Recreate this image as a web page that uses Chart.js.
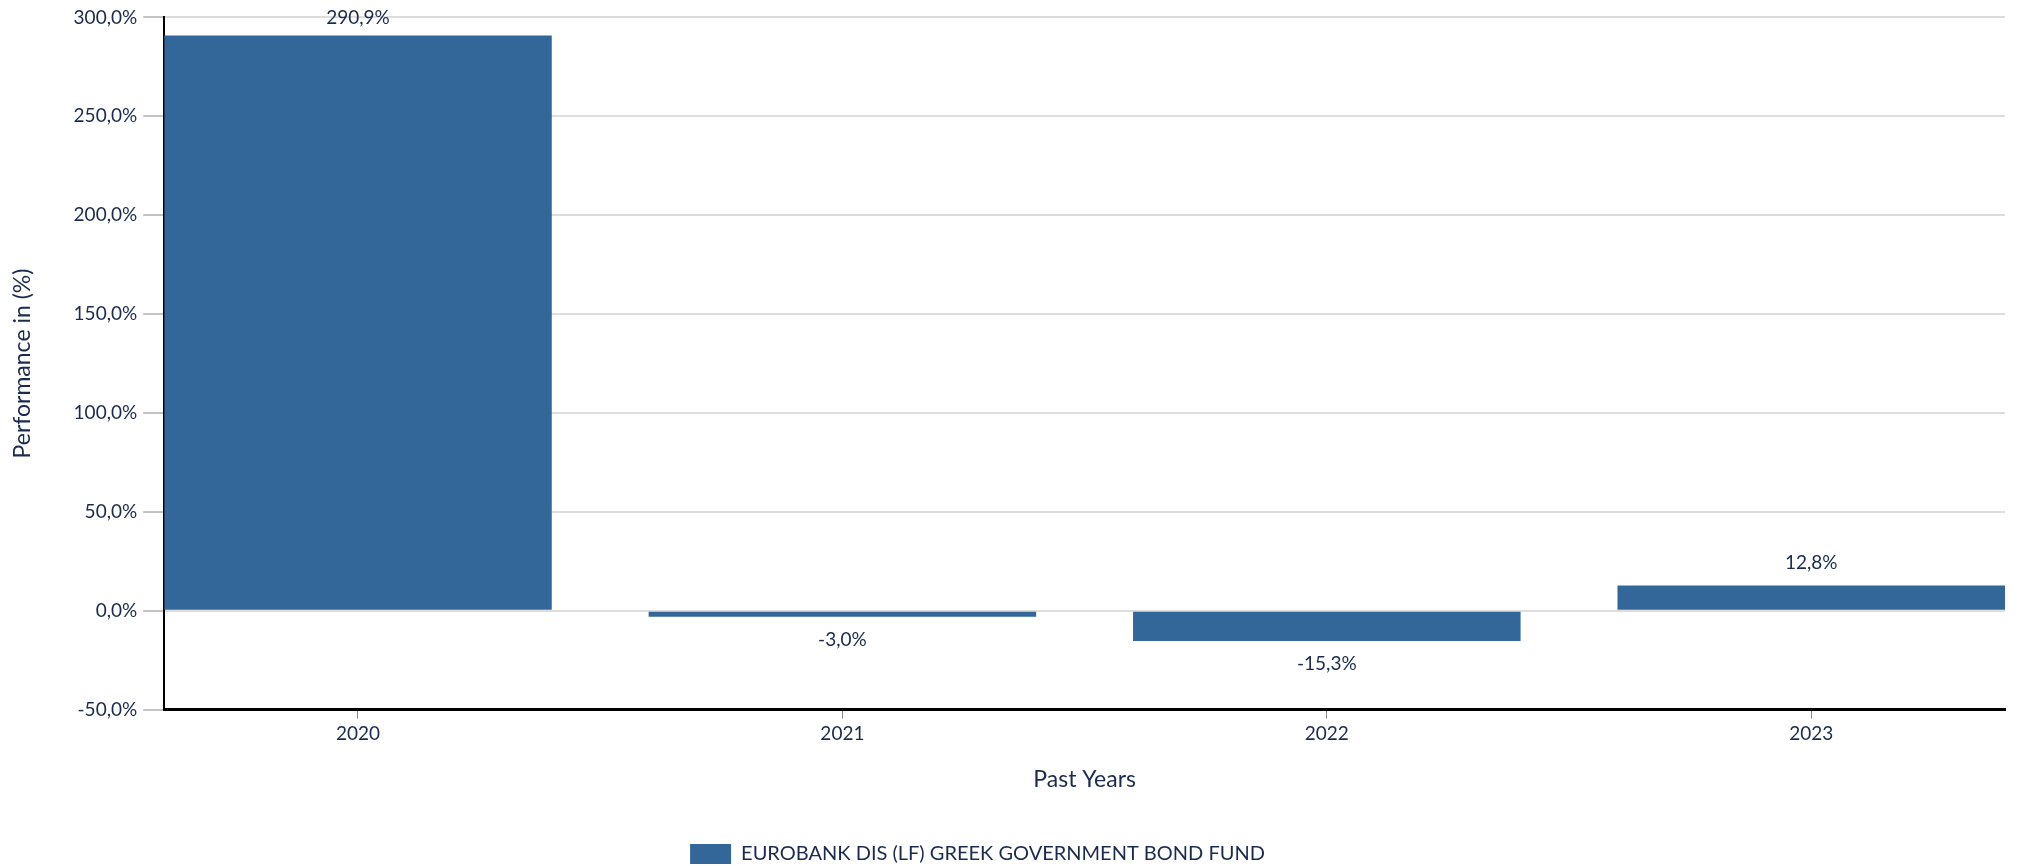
<!DOCTYPE html>
<html>
<head>
<meta charset="utf-8">
<title>Past Years Performance</title>
<script src="https://cdn.jsdelivr.net/npm/chart.js@4/dist/chart.umd.min.js"></script>
<style>
  html, body { margin: 0; padding: 0; background: #ffffff; }
  #wrap { width: 2017px; height: 866px; }
</style>
</head>
<body>
<div id="wrap"><canvas id="perf-chart"></canvas></div>
<script>
// chart values
const years = ['2020', '2021', '2022', '2023'];
const performance = [290.9, -3.0, -15.3, 12.8];
const fundName = 'EUROBANK DIS (LF) GREEK GOVERNMENT BOND FUND';
const yTicks = { min: -50, max: 300, step: 50 };

const textColor = '#1b2a4e';
const barColor = '#336699';
const fontFamily = 'Lato, "Open Sans", sans-serif';

// formatPercent
// Greek style decimals: 12.8 -> "12,8%"
function formatPercent(v) {
  return v.toFixed(1).replace('.', ',') + '%';
}

// valueLabels
// draws the value above positive bars and below negative ones
const valueLabels = {
  id: 'valueLabels',
  afterDatasetsDraw(chart) {
    const ctx = chart.ctx;
    const meta = chart.getDatasetMeta(0);
    ctx.save();
    ctx.font = '19px ' + fontFamily;
    ctx.fillStyle = textColor;
    ctx.textAlign = 'center';
    ctx.textBaseline = 'middle';
    meta.data.forEach((bar, i) => {
      const v = performance[i];
      let y = v >= 0 ? bar.y - 23 : bar.y + 23;
      y = Math.max(y, chart.chartArea.top);
      ctx.fillText(formatPercent(v), bar.x, y);
    });
    ctx.restore();
  }
};

// legendShift
// the reference legend sits a little left of the canvas centre
const legendShift = {
  id: 'legendShift',
  afterLayout(chart) {
    chart.legend.left -= 25;
    chart.legend.right -= 25;
  }
};

const ctx = document.getElementById('perf-chart').getContext('2d');
const perfChart = new Chart(ctx, {
  type: 'bar',
  data: {
    datasets: [{
      label: fundName,
      data: performance.map((v, i) => ({ x: i, y: v })),
      backgroundColor: barColor,
      borderWidth: 0,
      barPercentage: 0.8,
      categoryPercentage: 1
    }]
  },
  options: {
    responsive: true,
    maintainAspectRatio: false,
    animation: false,
    layout: { padding: { top: 16, right: 12, left: 0, bottom: -8 } },
    scales: {
      x: {
        type: 'linear',
        offset: false,
        min: -0.4,
        max: years.length - 0.6,
        afterBuildTicks(scale) {
          scale.ticks = years.map((_, i) => ({ value: i }));
        },
        ticks: {
          color: textColor,
          font: { family: fontFamily, size: 19 },
          padding: 4,
          callback: (v) => years[v]
        },
        grid: {
          offset: false,
          drawOnChartArea: false,
          drawTicks: true,
          tickLength: 9,
          tickColor: '#888888',
          tickWidth: 1
        },
        border: { color: '#000000', width: 3 },
        title: {
          display: true,
          text: 'Past Years',
          color: textColor,
          font: { family: fontFamily, size: 23 },
          padding: { top: 16, bottom: 48 }
        }
      },
      y: {
        min: yTicks.min,
        max: yTicks.max,
        ticks: {
          stepSize: yTicks.step,
          color: textColor,
          font: { family: fontFamily, size: 19 },
          padding: 6,
          callback: (v) => formatPercent(v)
        },
        grid: {
          color: '#dddddd',
          lineWidth: 2,
          tickLength: 21,
          tickColor: '#888888',
          tickWidth: 1
        },
        border: { color: '#000000', width: 2 },
        title: {
          display: true,
          text: 'Performance in (%)',
          color: textColor,
          font: { family: fontFamily, size: 23 },
          padding: { top: 9, bottom: 31 }
        }
      }
    },
    plugins: {
      legend: {
        position: 'bottom',
        labels: {
          color: textColor,
          font: { family: fontFamily, size: 20 },
          boxWidth: 41,
          boxHeight: 20,
          padding: 3
        }
      },
      tooltip: { enabled: false }
    }
  },
  plugins: [valueLabels, legendShift]
});
</script>
</body>
</html>
